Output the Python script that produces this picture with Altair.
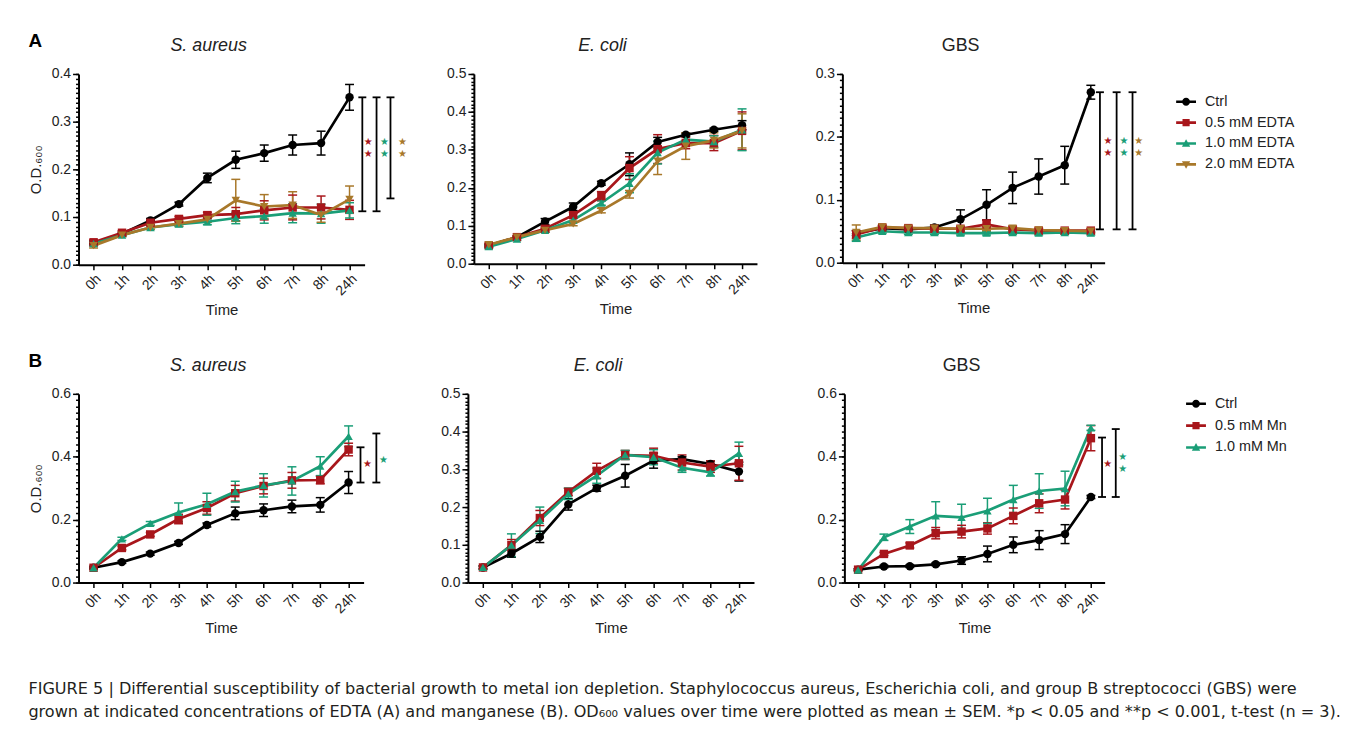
import altair as alt
import pandas as pd

FONT = "Liberation Sans"
TIME_LABELS = ["0h", "1h", "2h", "3h", "4h", "5h", "6h", "7h", "8h", "24h"]

SERIES_A = ["Ctrl", "0.5 mM EDTA", "1.0 mM EDTA", "2.0 mM EDTA"]
COLORS_A = ["#000000", "#A8161B", "#1A9E77", "#A8782A"]
SHAPES_A = ["circle", "square", "triangle-up", "triangle-down"]
SERIES_B = ["Ctrl", "0.5 mM Mn", "1.0 mM Mn"]
COLORS_B = ["#000000", "#A8161B", "#1A9E77"]
SHAPES_B = ["circle", "square", "triangle-up"]

# ---- Panel A: S. aureus (EDTA) ----
SA_A_MEAN = [
    [0.045, 0.065, 0.093, 0.127, 0.182, 0.220, 0.234, 0.251, 0.255, 0.351],
    [0.047, 0.067, 0.088, 0.096, 0.104, 0.106, 0.114, 0.120, 0.120, 0.115],
    [0.044, 0.062, 0.078, 0.085, 0.090, 0.098, 0.102, 0.108, 0.107, 0.114],
    [0.040, 0.062, 0.078, 0.086, 0.095, 0.135, 0.122, 0.125, 0.104, 0.137],
]
SA_A_SEM = [
    [0.005, 0.003, 0.004, 0.004, 0.010, 0.018, 0.017, 0.021, 0.025, 0.027],
    [0.005, 0.004, 0.004, 0.005, 0.006, 0.014, 0.020, 0.026, 0.024, 0.020],
    [0.004, 0.003, 0.004, 0.005, 0.006, 0.012, 0.015, 0.020, 0.020, 0.016],
    [0.005, 0.003, 0.004, 0.005, 0.006, 0.044, 0.025, 0.028, 0.015, 0.028],
]
# ---- Panel A: E. coli (EDTA) ----
EC_A_MEAN = [
    [0.048, 0.070, 0.111, 0.150, 0.212, 0.262, 0.321, 0.340, 0.353, 0.365],
    [0.048, 0.070, 0.092, 0.128, 0.178, 0.252, 0.302, 0.318, 0.318, 0.350],
    [0.045, 0.065, 0.088, 0.115, 0.160, 0.212, 0.293, 0.327, 0.322, 0.353],
    [0.050, 0.070, 0.088, 0.105, 0.140, 0.183, 0.270, 0.310, 0.325, 0.350],
]
EC_A_SEM = [
    [0.004, 0.003, 0.008, 0.010, 0.005, 0.030, 0.012, 0.004, 0.004, 0.012],
    [0.004, 0.003, 0.005, 0.008, 0.012, 0.030, 0.038, 0.015, 0.020, 0.050],
    [0.004, 0.003, 0.005, 0.006, 0.006, 0.025, 0.030, 0.012, 0.015, 0.055],
    [0.004, 0.003, 0.005, 0.005, 0.006, 0.010, 0.035, 0.035, 0.020, 0.045],
]
# ---- Panel A: GBS (EDTA) ----
GBS_A_MEAN = [
    [0.047, 0.055, 0.053, 0.056, 0.069, 0.092, 0.119, 0.137, 0.155, 0.271],
    [0.045, 0.056, 0.055, 0.054, 0.054, 0.061, 0.053, 0.051, 0.051, 0.051],
    [0.040, 0.050, 0.048, 0.048, 0.047, 0.047, 0.048, 0.047, 0.048, 0.047],
    [0.048, 0.057, 0.055, 0.055, 0.054, 0.054, 0.055, 0.052, 0.051, 0.050],
]
GBS_A_SEM = [
    [0.004, 0.003, 0.003, 0.004, 0.015, 0.024, 0.025, 0.028, 0.030, 0.011],
    [0.006, 0.003, 0.003, 0.003, 0.003, 0.007, 0.003, 0.003, 0.003, 0.003],
    [0.006, 0.003, 0.003, 0.003, 0.003, 0.003, 0.003, 0.003, 0.003, 0.003],
    [0.012, 0.003, 0.003, 0.003, 0.003, 0.003, 0.003, 0.003, 0.003, 0.003],
]
# ---- Panel B: S. aureus (Mn) ----
SA_B_MEAN = [
    [0.047, 0.065, 0.092, 0.126, 0.183, 0.220, 0.230, 0.242, 0.247, 0.318],
    [0.047, 0.110, 0.153, 0.202, 0.237, 0.284, 0.307, 0.325, 0.326, 0.423],
    [0.047, 0.139, 0.188, 0.223, 0.249, 0.289, 0.309, 0.323, 0.370, 0.465],
]
SA_B_SEM = [
    [0.004, 0.004, 0.005, 0.005, 0.006, 0.020, 0.020, 0.020, 0.023, 0.035],
    [0.004, 0.006, 0.006, 0.015, 0.020, 0.025, 0.025, 0.025, 0.012, 0.020],
    [0.004, 0.005, 0.006, 0.030, 0.035, 0.033, 0.037, 0.045, 0.030, 0.033],
]
# ---- Panel B: E. coli (Mn) ----
EC_B_MEAN = [
    [0.040, 0.077, 0.121, 0.207, 0.250, 0.283, 0.323, 0.327, 0.314, 0.294],
    [0.040, 0.099, 0.171, 0.240, 0.296, 0.338, 0.336, 0.318, 0.307, 0.316],
    [0.040, 0.099, 0.165, 0.235, 0.283, 0.338, 0.332, 0.304, 0.292, 0.342],
]
EC_B_SEM = [
    [0.004, 0.010, 0.015, 0.015, 0.008, 0.030, 0.020, 0.006, 0.008, 0.025],
    [0.004, 0.015, 0.020, 0.010, 0.020, 0.012, 0.020, 0.020, 0.015, 0.045],
    [0.004, 0.030, 0.035, 0.015, 0.020, 0.012, 0.020, 0.012, 0.010, 0.030],
]
# ---- Panel B: GBS (Mn) ----
GBS_B_MEAN = [
    [0.041, 0.051, 0.052, 0.058, 0.070, 0.091, 0.120, 0.135, 0.154, 0.272],
    [0.041, 0.091, 0.118, 0.157, 0.162, 0.172, 0.212, 0.252, 0.264, 0.459],
    [0.040, 0.144, 0.178, 0.212, 0.207, 0.228, 0.264, 0.291, 0.299, 0.492],
]
GBS_B_SEM = [
    [0.003, 0.004, 0.004, 0.004, 0.012, 0.025, 0.025, 0.030, 0.030, 0.005],
    [0.003, 0.005, 0.008, 0.018, 0.020, 0.018, 0.025, 0.030, 0.030, 0.040],
    [0.003, 0.010, 0.022, 0.045, 0.042, 0.040, 0.045, 0.055, 0.055, 0.008],
]

# significance brackets: (x position in time-index units, low, high)
SA_A_BRACKETS = [(9.45, 0.112, 0.351), (9.95, 0.112, 0.351), (10.44, 0.139, 0.351)]
SA_A_STARS = [(9.66, 0.257, 1), (9.66, 0.233, 1), (10.23, 0.257, 2), (10.23, 0.233, 2),
              (10.86, 0.257, 3), (10.86, 0.233, 3)]
GBS_A_BRACKETS = [(9.35, 0.053, 0.271), (9.99, 0.053, 0.271), (10.6, 0.053, 0.271)]
GBS_A_STARS = [(9.66, 0.193, 1), (9.66, 0.175, 1), (10.27, 0.193, 2), (10.27, 0.175, 2),
               (10.84, 0.193, 3), (10.84, 0.175, 3)]
SA_B_BRACKETS = [(9.42, 0.318, 0.430), (9.98, 0.318, 0.474)]
SA_B_STARS = [(9.67, 0.378, 1), (10.23, 0.388, 2)]
GBS_B_BRACKETS = [(9.43, 0.272, 0.461), (9.96, 0.272, 0.488)]
GBS_B_STARS = [(9.65, 0.377, 1), (10.23, 0.398, 2), (10.23, 0.361, 2)]

CAPTION = [
    "FIGURE 5 | Differential susceptibility of bacterial growth to metal ion depletion. Staphylococcus aureus, Escherichia coli, and group B streptococci (GBS) were",
    "grown at indicated concentrations of EDTA (A) and manganese (B). OD\u2086\u2080\u2080 values over time were plotted as mean \u00b1 SEM. *p < 0.05 and **p < 0.001, t-test (n = 3).",
]

LEGEND_PATHS = {
    "circle": "M-1,-0.13H1V0.13H-1Z M-0.4,0A0.4,0.4 0 1,1 0.4,0A0.4,0.4 0 1,1 -0.4,0Z",
    "square": "M-1,-0.13H1V0.13H-1Z M-0.36,-0.36H0.36V0.36H-0.36Z",
    "triangle-up": "M-1,-0.13H1V0.13H-1Z M0,-0.44L0.42,0.32H-0.42Z",
    "triangle-down": "M-1,-0.13H1V0.13H-1Z M0,0.44L-0.42,-0.32H0.42Z",
}

LABEL_EXPR = "[" + ",".join("'%s'" % l for l in TIME_LABELS) + "][datum.value]"


def long_df(series, means, sems):
    rows = []
    for k, (s, m, e) in enumerate(zip(series, means, sems)):
        for i in range(len(TIME_LABELS)):
            rows.append({"t": i, "series": s, "sidx": k, "mean": m[i],
                         "lo": m[i] - e[i], "hi": m[i] + e[i]})
    return pd.DataFrame(rows)


def make_panel(title, italic, ymax, ystep, yminor, series, colors, shapes, means, sems,
               brackets, stars, ytitle, width, height, legend_place=None):
    df = long_df(series, means, sems)
    xs = alt.Scale(domain=[-0.53, 9.53], nice=False, zero=False)
    ys = alt.Scale(domain=[0, ymax], nice=False, zero=True)
    cs = alt.Scale(domain=series, range=colors)
    ks = alt.Scale(domain=list(range(len(series))), range=colors)
    nmaj = int(round(ymax / ystep))
    nmin = int(round(ymax / yminor))
    major_axis = alt.Axis(orient="left", values=[round(k * ystep, 3) for k in range(nmaj + 1)],
                          format=".1f", tickSize=6, title=ytitle, titlePadding=8,
                          grid=False, labelPadding=2)
    minor_axis = alt.Axis(orient="left", values=[round(k * yminor, 3) for k in range(nmin + 1)],
                          labels=False, domain=False, tickSize=3, title=None, grid=False)
    xaxis = alt.Axis(values=list(range(10)), labelExpr=LABEL_EXPR, title="Time",
                     labelAngle=315, tickSize=5, grid=False, labelPadding=2,
                     titlePadding=5, labelFlush=False, labelOverlap=False)

    def Xf(f):
        return alt.X(f + ":Q", scale=xs, axis=xaxis)

    def Yn(f):
        return alt.Y(f + ":Q", scale=ys, axis=None)

    S = alt.Stroke("sidx:N", scale=ks, legend=None)
    F = alt.Fill("sidx:N", scale=ks, legend=None)

    base = alt.Chart(df)
    err = base.mark_rule(strokeWidth=1.5, clip=False).encode(
        x=Xf("t"), y=alt.Y("lo:Q", scale=ys, axis=minor_axis), y2="hi:Q", stroke=S)
    caps = base.transform_fold(["lo", "hi"], as_=["k", "v"]).mark_tick(
        orient="horizontal", size=9, thickness=1.5, opacity=1, clip=False).encode(
        x=Xf("t"), y=Yn("v"), fill=F)
    line = base.mark_line(strokeWidth=2.7, clip=False).encode(
        x=Xf("t"), y=alt.Y("mean:Q", scale=ys, axis=major_axis), stroke=S)
    layers = [err, caps, line]
    for k, sh in enumerate(shapes):
        layers.append(base.transform_filter(alt.datum.sidx == k).mark_point(
            shape=sh, filled=True, size=72, opacity=1, clip=False).encode(
            x=Xf("t"), y=Yn("mean"), fill=F))
    if brackets:
        bdf = pd.DataFrame([{"bx": b[0], "blo": b[1], "bhi": b[2]} for b in brackets])
        bbase = alt.Chart(bdf)
        layers.append(bbase.mark_rule(color="black", strokeWidth=1.8, clip=False).encode(
            x=Xf("bx"), y=alt.Y("blo:Q", scale=ys, axis=None), y2="bhi:Q"))
        layers.append(bbase.transform_fold(["blo", "bhi"], as_=["k", "v"]).mark_tick(
            orient="horizontal", size=8, thickness=1.8, color="black", opacity=1,
            clip=False).encode(x=Xf("bx"), y=Yn("v")))
        sdf = pd.DataFrame([{"sx": s[0], "sy": s[1], "sidx": s[2]} for s in stars])
        layers.append(alt.Chart(sdf).mark_text(
            text="\u2605", font="DejaVu Sans", fontSize=10, clip=False,
            baseline="middle", align="center").encode(
            x=Xf("sx"), y=alt.Y("sy:Q", scale=ys, axis=None), fill=F))
    if legend_place is not None:
        leg = alt.Legend(title=None, orient="right", offset=legend_place[0],
                         padding=legend_place[1],
                         labelFontSize=14.5, labelFont=FONT,
                         labelColor="#222222", symbolSize=400, symbolStrokeWidth=0,
                         symbolOpacity=1, rowPadding=legend_place[2], labelOffset=9)
        layers.append(alt.Chart(df).transform_filter("false").mark_point(
            filled=True, opacity=1).encode(
            color=alt.Color("series:N", scale=cs, legend=leg),
            shape=alt.Shape("series:N", scale=alt.Scale(
                domain=series, range=[LEGEND_PATHS[s] for s in shapes]), legend=leg)))
    return alt.layer(*layers).resolve_axis(y="independent").properties(
        width=width, height=height,
        title=alt.TitleParams(title, fontStyle="italic" if italic else "normal",
                              fontSize=18, fontWeight="normal", font=FONT,
                              anchor="middle", dx=-13, offset=12, color="#222222"))


YT = "O.D.\u2086\u2080\u2080"

sa_a = make_panel("S. aureus", True, 0.4, 0.1, 0.01, SERIES_A, COLORS_A, SHAPES_A,
                  SA_A_MEAN, SA_A_SEM, SA_A_BRACKETS, SA_A_STARS, YT, 288, 192)
ec_a = make_panel("E. coli", True, 0.5, 0.1, 0.01, SERIES_A, COLORS_A, SHAPES_A,
                  EC_A_MEAN, EC_A_SEM, None, None, None, 285, 191)
gbs_a = make_panel("GBS", False, 0.3, 0.1, 0.01, SERIES_A, COLORS_A, SHAPES_A,
                   GBS_A_MEAN, GBS_A_SEM, GBS_A_BRACKETS, GBS_A_STARS, None, 264, 190,
                   legend_place=(15, 18, 4))
sa_b = make_panel("S. aureus", True, 0.6, 0.2, 0.02, SERIES_B, COLORS_B, SHAPES_B,
                  SA_B_MEAN, SA_B_SEM, SA_B_BRACKETS, SA_B_STARS, YT, 287, 190)
ec_b = make_panel("E. coli", True, 0.5, 0.1, 0.01, SERIES_B, COLORS_B, SHAPES_B,
                  EC_B_MEAN, EC_B_SEM, None, None, None, 288, 190)
gbs_b = make_panel("GBS", False, 0.6, 0.2, 0.02, SERIES_B, COLORS_B, SHAPES_B,
                   GBS_B_MEAN, GBS_B_SEM, GBS_B_BRACKETS, GBS_B_STARS, None, 262, 190,
                   legend_place=(59, 0, 5))


def row(letter, p1, p2, p3, s1, s2):
    inner = alt.hconcat(p2, p3, spacing=s2)
    return alt.hconcat(p1, inner, spacing=s1,
                       title=alt.TitleParams(letter, anchor="start", fontSize=19,
                                             fontWeight="bold", font=FONT, offset=-14,
                                             color="#000000"))


row_a = row("A", sa_a, ec_a, gbs_a, 39, 58)
row_b = row("B", sa_b, ec_b, gbs_b, 52, 63)

chart = alt.vconcat(
    row_a, row_b, spacing=34,
    title=alt.TitleParams(CAPTION, orient="bottom", anchor="start", fontSize=16.2,
                          fontWeight="normal", font="DejaVu Sans", lineHeight=23, offset=46,
                          color="#231f20"),
).resolve_scale(color="independent", shape="independent", stroke="independent",
                fill="independent").properties(
    padding={"left": 20, "top": 22, "right": 5, "bottom": 5}
).configure_view(stroke=None).configure_axis(
    domainColor="black", domainWidth=2, tickColor="black", tickWidth=1.5,
    labelFont=FONT, labelFontSize=14, labelColor="#222222",
    titleFont=FONT, titleFontSize=15, titleFontWeight="normal", titleColor="#222222",
)

chart.save("out.html", embed_options={"renderer": "svg", "actions": False})
